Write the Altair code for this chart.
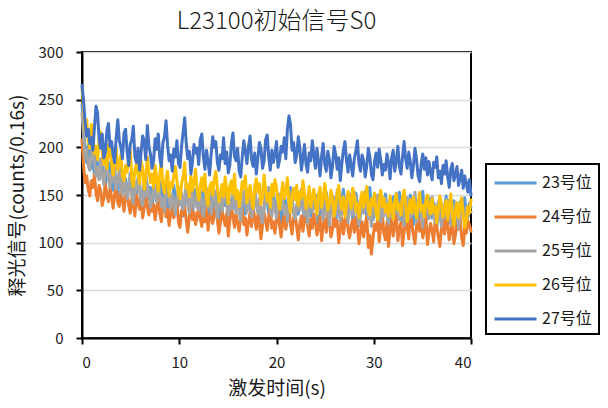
import altair as alt
import pandas as pd

# Excitation time axis: one reading every 0.16 s over 40 s
STEP = 0.16
N_POINTS = 251

positions = ["23号位", "24号位", "25号位", "26号位", "27号位"]
colors = ["#5B9BD5", "#ED7D31", "#A5A5A5", "#FFC000", "#4472C4"]

# Luminescence counts per 0.16 s for each sample position
s23 = [
    245, 221, 197, 184, 203, 192, 178, 186, 171, 195, 182, 167, 175, 189, 163, 158, 177, 170, 184, 161, 155, 172, 166, 151, 169,
    178, 160, 154, 167, 148, 159, 173, 156, 144, 162, 151, 168, 157, 140, 149, 163, 171, 152, 145, 158, 137, 150, 161, 147, 142,
    155, 164, 139, 146, 158, 133, 151, 143, 137, 160, 148, 131, 142, 154, 145, 128, 140, 152, 159, 136, 144, 130, 147, 156, 138,
    142, 129, 150, 157, 135, 143, 126, 139, 152, 146, 132, 137, 155, 141, 124, 133, 148, 139, 153, 131, 127, 145, 150, 136, 140,
    152, 134, 125, 141, 147, 130, 138, 156, 143, 122, 136, 149, 140, 133, 146, 128, 119, 137, 151, 144, 131, 126, 142, 154, 139,
    129, 145, 137, 121, 134, 150, 142, 127, 139, 158, 146, 132, 124, 138, 130, 147, 155, 136, 123, 141, 133, 149, 128, 135, 143,
    150, 131, 119, 137, 144, 128, 140, 153, 135, 125, 142, 132, 147, 121, 134, 139, 126, 145, 156, 138, 127, 133, 148, 140, 124,
    136, 152, 141, 118, 130, 143, 135, 149, 127, 139, 158, 137, 124, 131, 146, 133, 120, 138, 144, 129, 151, 136, 116, 127, 141,
    148, 134, 125, 140, 153, 131, 122, 137, 145, 128, 135, 150, 139, 119, 132, 144, 136, 126, 141, 154, 130, 123, 138, 147, 133,
    126, 142, 135, 117, 131, 146, 138, 124, 133, 149, 128, 121, 140, 136, 144, 125, 118, 134, 143, 130, 139, 147, 129, 136, 141,
    137,
]
s24 = [
    208, 181, 163, 170, 156, 149, 165, 158, 171, 152, 144, 160, 154, 139, 147, 162, 150, 143, 157, 148, 136, 151, 159, 142, 138,
    153, 145, 133, 149, 156, 139, 131, 146, 141, 128, 150, 143, 135, 147, 126, 138, 152, 137, 129, 144, 133, 140, 124, 136, 148,
    131, 122, 139, 144, 127, 135, 118, 130, 141, 126, 133, 145, 121, 116, 134, 129, 138, 123, 111, 128, 137, 124, 132, 119, 127,
    140, 125, 117, 131, 122, 136, 113, 127, 134, 120, 129, 142, 124, 110, 121, 133, 126, 118, 131, 107, 123, 137, 128, 116, 130,
    121, 112, 127, 135, 119, 126, 108, 122, 131, 117, 138, 125, 114, 129, 120, 104, 118, 132, 124, 113, 127, 136, 115, 122, 110,
    125, 133, 117, 106, 121, 129, 114, 124, 137, 119, 109, 126, 131, 116, 103, 120, 128, 112, 123, 134, 118, 107, 125, 115, 130,
    121, 108, 116, 127, 102, 119, 125, 111, 132, 120, 106, 114, 129, 117, 123, 100, 115, 126, 109, 121, 135, 113, 105, 118, 124,
    111, 127, 116, 99, 112, 122, 106, 118, 128, 95, 108, 88, 104, 119, 113, 126, 101, 117, 131, 110, 103, 121, 96, 114, 125,
    107, 118, 129, 102, 115, 121, 97, 111, 124, 116, 104, 133, 119, 108, 99, 117, 126, 112, 122, 105, 114, 128, 98, 110, 120,
    113, 101, 125, 117, 106, 96, 115, 122, 109, 130, 118, 103, 112, 124, 99, 108, 121, 114, 127, 105, 97, 116, 110, 123, 119,
    112,
]
s25 = [
    236, 212, 189, 198, 181, 176, 194, 203, 184, 170, 179, 166, 188, 172, 161, 177, 185, 168, 158, 173, 164, 181, 156, 167, 175,
    159, 150, 168, 162, 146, 155, 171, 149, 141, 158, 164, 153, 166, 144, 139, 157, 148, 162, 151, 137, 146, 160, 154, 143, 169,
    152, 138, 147, 133, 156, 161, 144, 136, 150, 142, 129, 148, 158, 140, 153, 135, 146, 163, 139, 131, 145, 154, 137, 149, 141,
    134, 152, 146, 128, 141, 157, 136, 144, 130, 149, 155, 138, 126, 143, 151, 133, 147, 160, 139, 129, 142, 135, 153, 145, 131,
    148, 137, 123, 140, 154, 146, 132, 139, 150, 127, 135, 157, 143, 131, 145, 138, 121, 136, 149, 141, 158, 133, 128, 144, 137,
    126, 142, 151, 135, 147, 130, 139, 122, 137, 153, 144, 131, 125, 140, 148, 134, 156, 141, 129, 136, 120, 143, 150, 132, 138,
    145, 127, 134, 152, 139, 124, 131, 146, 137, 118, 133, 149, 141, 128, 155, 136, 123, 142, 130, 147, 135, 121, 139, 151, 129,
    134, 148, 126, 119, 138, 143, 131, 154, 140, 125, 132, 117, 136, 145, 129, 150, 137, 122, 141, 128, 146, 133, 120, 135, 142,
    127, 139, 152, 131, 124, 144, 136, 118, 133, 147, 138, 126, 141, 130, 153, 122, 135, 143, 129, 116, 137, 146, 132, 125, 140,
    148, 128, 121, 136, 143, 130, 117, 134, 140, 126, 145, 133, 119, 138, 127, 142, 131, 115, 129, 144, 135, 122, 137, 126, 134,
    132,
]
s26 = [
    262, 241, 218, 229, 206, 199, 224, 212, 193, 201, 187, 209, 216, 195, 182, 190, 178, 203, 196, 184, 171, 188, 199, 176, 183,
    192, 170, 165, 181, 174, 189, 197, 168, 159, 176, 183, 171, 162, 185, 178, 156, 169, 190, 175, 163, 172, 158, 181, 166, 154,
    173, 186, 160, 152, 167, 175, 149, 163, 158, 171, 180, 165, 151, 146, 162, 169, 184, 157, 161, 148, 170, 155, 164, 177, 153,
    145, 160, 168, 154, 172, 147, 139, 158, 163, 150, 166, 175, 157, 143, 152, 161, 148, 169, 156, 141, 159, 165, 151, 172, 146,
    155, 138, 149, 164, 157, 170, 142, 151, 160, 145, 136, 158, 167, 153, 162, 140, 147, 171, 155, 144, 152, 137, 161, 149, 166,
    158, 143, 135, 150, 163, 146, 154, 168, 141, 132, 149, 157, 145, 160, 139, 153, 147, 165, 152, 136, 144, 159, 138, 148, 156,
    142, 130, 151, 158, 137, 145, 162, 149, 134, 141, 155, 146, 128, 139, 152, 160, 143, 135, 148, 127, 140, 154, 145, 136, 157,
    150, 133, 141, 126, 144, 153, 137, 148, 159, 135, 129, 146, 139, 152, 131, 124, 143, 155, 138, 147, 132, 140, 128, 149, 136,
    125, 143, 151, 134, 140, 129, 147, 155, 138, 122, 136, 145, 131, 148, 137, 126, 141, 153, 133, 139, 127, 144, 150, 135, 130,
    146, 132, 138, 121, 135, 149, 141, 127, 133, 144, 124, 137, 151, 130, 118, 134, 142, 126, 139, 147, 129, 116, 123, 138, 131,
    145,
]
s27 = [
    265, 249, 226, 212, 219, 204, 210, 197, 221, 243, 236, 208, 199, 214, 189, 195, 218, 225, 201, 206, 192, 184, 211, 229, 207,
    200, 188, 215, 219, 196, 181, 203, 208, 222, 190, 184, 199, 176, 195, 212, 206, 187, 223, 201, 193, 178, 186, 209, 198, 214,
    189, 180, 205, 211, 228, 202, 186, 192, 175, 198, 190, 207, 183, 179, 201, 216, 231, 204, 188, 196, 172, 185, 203, 194, 199,
    182, 208, 214, 190, 177, 197, 185, 171, 193, 211, 200, 206, 184, 176, 192, 188, 210, 183, 195, 173, 181, 204, 215, 191, 186,
    199, 175, 169, 190, 207, 196, 183, 201, 212, 187, 180, 194, 172, 188, 205, 199, 178, 185, 208, 213, 190, 176, 197, 184, 193,
    206, 179, 187, 201, 195, 210, 188, 219, 233, 224, 197, 205, 184, 192, 211, 199, 176, 189, 203, 182, 174, 194, 186, 207, 192,
    178, 199, 185, 170, 191, 204, 182, 175, 196, 187, 168, 180, 201, 193, 177, 189, 165, 183, 197, 206, 186, 174, 192, 181, 170,
    188, 196, 207, 183, 175, 192, 186, 169, 180, 199, 190, 172, 166, 185, 194, 179, 198, 187, 171, 182, 176, 193, 184, 167, 189,
    197, 175, 186, 201, 180, 172, 190, 206, 188, 178, 195, 184, 168, 181, 199, 187, 170, 164, 183, 193, 177, 189, 171, 185, 174,
    166, 184, 179, 190, 168, 175, 162, 181, 172, 186, 169, 158, 177, 183, 165, 171, 180, 160, 168, 176, 157, 170, 162, 153, 166,
    150,
]

x_ticks = [0, 10, 20, 30, 40]
y_ticks = [0, 50, 100, 150, 200, 250, 300]

times = [round(i * STEP, 2) for i in range(N_POINTS)]
series = dict(zip(positions, [s23, s24, s25, s26, s27]))

records = []
for name, vals in series.items():
    assert len(vals) == N_POINTS, (name, len(vals))
    for t, v in zip(times, vals):
        records.append({"time": t, "signal": v, "position": name})
df = pd.DataFrame(records)

FONT = "Noto Sans CJK SC"
TEXT = "#1a1a1a"

chart = (
    alt.Chart(df)
    .mark_line(strokeWidth=3, strokeJoin="round", strokeCap="round")
    .encode(
        x=alt.X(
            "time:Q",
            scale=alt.Scale(domain=[0, 40], nice=False),
            axis=alt.Axis(values=x_ticks, title="激发时间(s)", grid=False,
                          labelPadding=11, titlePadding=9, titleFontSize=19),
        ),
        y=alt.Y(
            "signal:Q",
            scale=alt.Scale(domain=[0, 300], nice=False),
            axis=alt.Axis(values=y_ticks, title="释光信号(counts/0.16s)", grid=True,
                          labelPadding=13, titlePadding=11, titleFontSize=19),
        ),
        color=alt.Color(
            "position:N",
            scale=alt.Scale(domain=positions, range=colors),
            legend=alt.Legend(
                title=None,
                orient="none",
                legendX=404,
                legendY=112,
                # short horizontal stroke, drawn to the right of its anchor
                symbolType="M-1,0L3,0",
                symbolSize=441,
                symbolStrokeWidth=3,
                symbolFillColor="transparent",
                labelFontSize=16,
                labelFont=FONT,
                labelColor=TEXT,
                labelOffset=25,
                strokeColor="black",
                padding=7,
                rowPadding=14,
            ),
        ),
    )
    .properties(
        width=389,
        height=286,
        title=alt.TitleParams("L23100初始信号S0", fontSize=24, fontWeight=300,
                              font=FONT, color=TEXT, anchor="middle", offset=11),
        autosize="none",
        padding={"left": 82, "top": 52, "right": 137, "bottom": 70},
    )
    .configure_view(stroke="black", strokeWidth=2)
    .configure_legend(strokeWidth=2)
    .configure_axis(
        domainColor="black",
        domainWidth=2,
        tickColor="black",
        tickWidth=2,
        tickSize=6,
        gridColor="#D9D9D9",
        gridWidth=1.5,
        labelFont=FONT,
        labelFontSize=15,
        labelColor=TEXT,
        titleFont=FONT,
        titleFontWeight="normal",
        titleColor=TEXT,
    )
)

chart.save("out.html", embed_options={"renderer": "svg", "actions": False})
